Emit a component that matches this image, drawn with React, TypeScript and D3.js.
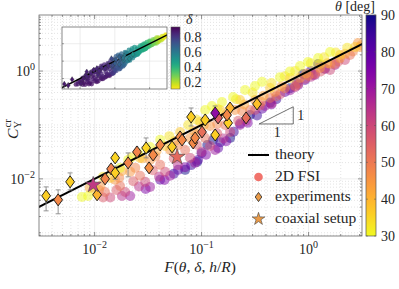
import React from "react";
import * as d3 from "d3";

// ---------- data ----------
// 2D FSI simulations grouped by inclination angle theta (deg); entries are [F, C_Y^cr, delta]
const fsiTheta = [90, 85, 80, 75, 70, 65, 60, 56, 52, 48, 45, 42, 37, 33, 30];
const fsi90 = [[0.0702,0.0147,0.9],[0.0908,0.0206,0.8],[0.113,0.0426,0.74],[0.128,0.0528,0.72],[0.185,0.0574,0.68],[0.284,0.153,0.58],[0.437,0.26,0.52],[0.672,0.48,0.45],[0.889,0.88,0.4],[1.23,1.35,0.3]];
const fsi85 = [[0.055,0.0125,0.9],[0.08,0.018,0.86],[0.1,0.03,0.78],[0.15,0.048,0.72],[0.2,0.075,0.66],[0.33,0.15,0.56],[0.5,0.3,0.48],[0.78,0.6,0.42],[1.05,1.0,0.34]];
const fsi80 = [[0.041,0.0096,0.9],[0.0603,0.0147,0.9],[0.0927,0.0225,0.78],[0.143,0.0375,0.72],[0.229,0.106,0.6],[0.368,0.2,0.55],[0.603,0.41,0.45],[0.928,0.68,0.4],[1.43,1.1,0.3]];
const fsi75 = [[0.03,0.0065,0.9],[0.045,0.0095,0.9],[0.07,0.0165,0.87],[0.11,0.028,0.78],[0.17,0.05,0.7],[0.27,0.11,0.58],[0.45,0.24,0.5],[0.8,0.55,0.42],[1.1,0.85,0.33]];
const fsi70 = [[0.0215,0.0048,0.9],[0.033,0.0071,0.9],[0.0508,0.0114,0.88],[0.087,0.0198,0.8],[0.134,0.0344,0.72],[0.229,0.1,0.6],[0.392,0.225,0.55],[0.672,0.44,0.44],[1.15,0.85,0.32],[1.77,1.3,0.22]];
const fsi65 = [[0.018,0.0048,0.9],[0.026,0.0072,0.9],[0.04,0.011,0.88],[0.06,0.018,0.86],[0.1,0.032,0.76],[0.16,0.056,0.68],[0.26,0.12,0.58],[0.45,0.25,0.5],[0.75,0.5,0.42],[1.05,0.78,0.33],[1.4,1.1,0.27]];
const fsi60 = [[0.014,0.0045,0.9],[0.0193,0.0057,0.9],[0.0297,0.0088,0.88],[0.0456,0.0135,0.87],[0.0781,0.0245,0.82],[0.12,0.0408,0.72],[0.185,0.0742,0.66],[0.316,0.19,0.56],[0.542,0.37,0.45],[0.928,0.72,0.4],[1.59,1.05,0.26],[2.19,1.6,0.2]];
const fsi56 = [[0.012,0.0045,0.9],[0.016,0.0062,0.9],[0.023,0.009,0.88],[0.035,0.0145,0.87],[0.055,0.024,0.86],[0.09,0.043,0.76],[0.14,0.07,0.7],[0.22,0.12,0.6],[0.35,0.23,0.54],[0.5,0.34,0.46],[0.8,0.58,0.4],[1.3,0.98,0.28],[1.9,1.5,0.19]];
const fsi52 = [[0.0125,0.0057,0.9],[0.0173,0.0074,0.88],[0.0266,0.0114,0.88],[0.041,0.0182,0.86],[0.0702,0.0344,0.84],[0.108,0.0574,0.72],[0.166,0.1,0.68],[0.284,0.19,0.56],[0.437,0.316,0.5],[0.748,0.528,0.42],[1.15,0.88,0.3],[1.77,1.35,0.2],[2.44,1.98,0.16]];
const fsi48 = [[0.011,0.0062,0.9],[0.017,0.0105,0.88],[0.024,0.016,0.88],[0.037,0.026,0.86],[0.06,0.042,0.85],[0.09,0.066,0.75],[0.14,0.105,0.68],[0.24,0.18,0.58],[0.36,0.27,0.52],[0.6,0.48,0.44],[1.0,0.82,0.32],[1.6,1.35,0.22],[2.6,2.3,0.14]];
const fsi45 = [[0.0113,0.0074,0.9],[0.0155,0.0096,0.88],[0.0215,0.0135,0.88],[0.033,0.0225,0.86],[0.0508,0.0344,0.85],[0.0781,0.0574,0.8],[0.12,0.0958,0.7],[0.206,0.19,0.58],[0.316,0.29,0.55],[0.487,0.408,0.48],[0.833,0.742,0.4],[1.28,1.14,0.3],[1.97,1.74,0.2],[2.9,3.3,0.13],[3.03,2.78,0.12]];
const fsi42 = [[0.009,0.0068,0.9],[0.018,0.014,0.88],[0.028,0.024,0.87],[0.038,0.033,0.86],[0.056,0.05,0.85],[0.085,0.078,0.74],[0.105,0.1,0.72],[0.17,0.16,0.66],[0.25,0.24,0.56],[0.38,0.35,0.52],[0.56,0.52,0.44],[0.95,0.9,0.38],[1.5,1.4,0.26],[2.2,2.1,0.17],[3.1,3.0,0.12]];
const fsi37 = [[0.0101,0.0063,0.88],[0.014,0.0104,0.88],[0.0266,0.0245,0.86],[0.0456,0.0408,0.85],[0.063,0.0742,0.84],[0.0968,0.114,0.72],[0.149,0.19,0.68],[0.229,0.29,0.58],[0.437,0.484,0.5],[0.672,0.742,0.42],[1.28,1.35,0.28],[1.97,1.98,0.2],[2.72,2.78,0.15]];
const fsi33 = [[0.012,0.011,0.88],[0.022,0.025,0.87],[0.05,0.062,0.85],[0.075,0.1,0.82],[0.09,0.125,0.72],[0.14,0.2,0.68],[0.21,0.3,0.56],[0.3,0.4,0.54],[0.45,0.6,0.48],[0.6,0.8,0.43],[0.75,1.0,0.4],[1.05,1.4,0.3],[1.4,1.8,0.26],[1.8,2.2,0.2],[2.3,2.7,0.16]];
const fsi30 = [[0.0076,0.0046,0.9],[0.0087,0.0048,0.88],[0.0173,0.016,0.88],[0.0206,0.0225,0.86],[0.0255,0.0303,0.88],[0.033,0.039,0.85],[0.041,0.053,0.86],[0.108,0.19,0.7],[0.125,0.225,0.68],[0.155,0.267,0.66],[0.197,0.33,0.6],[0.255,0.445,0.55],[0.316,0.53,0.52],[0.368,0.63,0.5],[0.54,0.77,0.45],[0.67,0.98,0.42],[0.833,1.24,0.4],[0.989,1.47,0.35],[1.23,1.74,0.28],[1.59,2.25,0.22]];
const fsiGroups = [fsi90, fsi85, fsi80, fsi75, fsi70, fsi65, fsi60, fsi56, fsi52, fsi48, fsi45, fsi42, fsi37, fsi33, fsi30];

// experiments
const expF = [0.00352,0.00456,0.0059,0.01055,0.01253,0.01426,0.01556,0.01556,0.02056,0.0249,0.0303,0.0323,0.0352,0.041,0.053,0.063,0.0657,0.0798,0.0834,0.087,0.101,0.108,0.134,0.1426,0.134,0.177,0.1846,0.173,0.2607,0.33];
const expC = [0.00484,0.00408,0.0088,0.00506,0.01,0.0153,0.0245,0.0129,0.0198,0.0316,0.0375,0.016,0.0278,0.0426,0.0392,0.06,0.0527,0.1406,0.0464,0.0574,0.0742,0.124,0.0653,0.135,0.1667,0.109,0.2066,0.153,0.135,0.245];
const expTheta = [36,47,36,40,48,48,35,36,48,48,35,46,47,47,36,47,47,36,47,47,52,36,36,55,72,36,40,47,52,38];
const expDelta = [0.88,0.88,0.88,0.88,0.88,0.86,0.86,0.86,0.86,0.86,0.85,0.85,0.85,0.84,0.84,0.84,0.84,0.75,0.75,0.75,0.7,0.7,0.68,0.68,0.68,0.62,0.6,0.62,0.55,0.5];
const expErrLo = [0.00255,0.00225,0.00625,null,null,null,null,0.0098,0.0109,null,0.0245,null,null,null,null,null,null,0.0957,null,null,null,null,null,null,0.125,null,null,null,null,null];
const expErrHi = [0.0071,0.00625,0.0129,null,null,null,null,0.0172,0.0303,null,0.0574,null,null,null,null,null,null,0.2066,null,null,null,null,null,null,0.225,null,null,null,null,null];

// coaxial setup
const coaxF = [0.0097, 0.059];
const coaxC = [0.00774, 0.0255];
const coaxTheta = [63, 53];

// theory C = F
const theoryF = [0.0025, 4];
const theoryC = [0.0025, 4];

// slope triangle (data coords)
const triF = [0.345, 0.72];
const triC = [0.1043, 0.2175];

const thetaTicks = [30, 40, 50, 60, 70, 80, 90];
const deltaTicks = [0.2, 0.4, 0.6, 0.8];
const xMajor = [0.01, 0.1, 1];
const xMajorExp = ["\u22122", "\u22121", "0"];
const yMajor = [0.01, 1];
const yMajorExp = ["\u22122", "0"];

// ---------- styling ----------
const FONT = "'Liberation Serif', 'Times New Roman', serif";
const TXT = "#262626";
const thetaColor = (t: number) => d3.interpolatePlasma((90 - t) / 60);
const D0 = 0.113, D1 = 0.94;
const deltaColor = (d: number) => d3.interpolateViridis((D1 - d) / (D1 - D0));

const L = 39, R = 362, T = 15, B = 236;
const IL = 62, IR = 167, IT = 27, IB = 89;

function diamond(cx: number, cy: number, hw: number, hh: number) {
  return `M${cx},${cy - hh}L${cx + hw},${cy}L${cx},${cy + hh}L${cx - hw},${cy}Z`;
}

function logGrid(lo: number, hi: number) {
  const out: { v: number; major: boolean }[] = [];
  for (let k = -5; k <= 2; k++) {
    for (let m = 1; m <= 9; m++) {
      const v = m * Math.pow(10, k);
      if (v >= lo * 0.9999 && v <= hi * 1.0001) out.push({ v, major: m === 1 });
    }
  }
  return out;
}

export default function App() {
  const x = d3.scaleLog().domain([Math.pow(10, -2.52), Math.pow(10, 0.5)]).range([L, R]);
  const y = d3.scaleLog().domain([Math.pow(10, -3.06), Math.pow(10, 1.04)]).range([B, T]);
  const xi = d3.scaleLog().domain([Math.pow(10, -2.52), Math.pow(10, 0.5)]).range([IL, IR]);
  const yi = d3.scaleLog().domain([Math.pow(10, -2.6), Math.pow(10, 0.96)]).range([IB, IT]);
  const cb = d3.scaleLinear().domain([30, 90]).range([236, 15]);
  const cbi = d3.scaleLinear().domain([D0, D1]).range([IB, IT]);

  const xg = logGrid(x.domain()[0], x.domain()[1]);
  const yg = logGrid(y.domain()[0], y.domain()[1]);
  const xgi = logGrid(xi.domain()[0], xi.domain()[1]).filter((d) => d.major);
  const ygi = logGrid(yi.domain()[0], yi.domain()[1]).filter((d) => d.major);

  const theoryLine = d3.line<number>().x((_, i) => x(theoryF[i])).y((_, i) => y(theoryC[i]));
  const theoryLineI = d3.line<number>().x((_, i) => xi(theoryF[i])).y((_, i) => yi(theoryC[i]));

  const plasmaStops = d3.range(0, 1.0001, 0.05);
  const viridisStops = d3.range(0, 1.0001, 0.05);
  const star = (size: number) => d3.symbol().type(d3.symbolStar).size(size)()!;

  const yMajorSet = new Set(yMajor.map((v) => Math.round(Math.log10(v))));

  return (
    <svg width={399} height={289} style={{ position: "absolute", left: 0, top: 0, background: "#fff" }} fontFamily={FONT}>
      <defs>
        <clipPath id="mainClip"><rect x={L} y={T} width={R - L} height={B - T} /></clipPath>
        <clipPath id="insetClip"><rect x={IL} y={IT} width={IR - IL} height={IB - IT} /></clipPath>
        <linearGradient id="plasmaGrad" x1="0" y1="1" x2="0" y2="0">
          {plasmaStops.map((s, i) => (
            <stop key={i} offset={s} stopColor={d3.interpolatePlasma(1 - s)} />
          ))}
        </linearGradient>
        <linearGradient id="viridisGrad" x1="0" y1="1" x2="0" y2="0">
          {viridisStops.map((s, i) => (
            <stop key={i} offset={s} stopColor={d3.interpolateViridis(1 - s)} />
          ))}
        </linearGradient>
      </defs>
      <rect x={0} y={0} width={399} height={289} fill="#fff" />
      <rect x={L} y={T} width={R - L} height={B - T} fill="#fff" />

      {/* grid */}
      <g>
        {xg.map((d, i) => (
          <line key={"xg" + i} x1={x(d.v)} x2={x(d.v)} y1={T} y2={B}
            stroke={d.major ? "#e2e2e2" : "#d2d2d2"} strokeWidth={0.6}
            strokeDasharray={d.major ? undefined : "1,2"} />
        ))}
        {yg.map((d, i) => {
          const maj = d.major && yMajorSet.has(Math.round(Math.log10(d.v)));
          return (
            <line key={"yg" + i} x1={L} x2={R} y1={y(d.v)} y2={y(d.v)}
              stroke={maj ? "#e2e2e2" : "#d2d2d2"} strokeWidth={0.6}
              strokeDasharray={maj ? undefined : "1,2"} />
          );
        })}
      </g>

      {/* FSI circles */}
      <g clipPath="url(#mainClip)">
        {fsiGroups.map((g, gi) =>
          g.map((p, i) => (
            <circle key={gi + "-" + i} cx={x(p[0])} cy={y(p[1])} r={5}
              fill={thetaColor(fsiTheta[gi])} fillOpacity={0.5} />
          ))
        )}
        <path d={theoryLine(theoryF)!} fill="none" stroke="#000" strokeWidth={2} />
      </g>

      {/* error bars */}
      <g stroke="#8a8a8a" strokeWidth={0.9}>
        {expF.map((f, i) =>
          expErrLo[i] != null ? (
            <g key={"eb" + i}>
              <line x1={x(f)} x2={x(f)} y1={y(expErrLo[i] as number)} y2={y(expErrHi[i] as number)} />
              <line x1={x(f) - 2.5} x2={x(f) + 2.5} y1={y(expErrLo[i] as number)} y2={y(expErrLo[i] as number)} />
              <line x1={x(f) - 2.5} x2={x(f) + 2.5} y1={y(expErrHi[i] as number)} y2={y(expErrHi[i] as number)} />
            </g>
          ) : null
        )}
      </g>

      {/* experiments diamonds */}
      <g>
        {expF.map((f, i) => (
          <path key={"ex" + i} d={diamond(x(f), y(expC[i]), 4.4, 6)}
            fill={thetaColor(expTheta[i])} stroke="#111" strokeWidth={0.9} />
        ))}
      </g>

      {/* coaxial stars */}
      <g>
        {coaxF.map((f, i) => (
          <path key={"st" + i} d={star(80)} transform={`translate(${x(f)},${y(coaxC[i])})`}
            fill={thetaColor(coaxTheta[i])} stroke="#444" strokeWidth={0.6} />
        ))}
      </g>

      {/* slope triangle */}
      <path d={`M${x(triF[0])},${y(triC[0])}L${x(triF[1])},${y(triC[0])}L${x(triF[1])},${y(triC[1])}Z`}
        fill="none" stroke="#333" strokeWidth={0.7} />
      <text x={x(triF[1]) + 4} y={(y(triC[0]) + y(triC[1])) / 2 + 4.5} fontSize={14} fill={TXT}>1</text>
      <text x={(x(triF[0]) + x(triF[1])) / 2 + 1} y={y(triC[0]) + 13.5} fontSize={14} fill={TXT} textAnchor="middle">1</text>

      {/* frame + ticks */}
      <rect x={L} y={T} width={R - L} height={B - T} fill="none" stroke="#555" strokeWidth={0.7} />
      <g stroke="#555" strokeWidth={0.6}>
        {xg.map((d, i) => {
          const len = d.major ? 4 : 2;
          return (
            <g key={"xt" + i}>
              <line x1={x(d.v)} x2={x(d.v)} y1={B} y2={B - len} />
              <line x1={x(d.v)} x2={x(d.v)} y1={T} y2={T + len} />
            </g>
          );
        })}
        {yg.map((d, i) => {
          const maj = d.major && yMajorSet.has(Math.round(Math.log10(d.v)));
          const len = maj ? 4 : 2;
          return (
            <g key={"yt" + i}>
              <line x1={L} x2={L + len} y1={y(d.v)} y2={y(d.v)} />
              <line x1={R} x2={R - len} y1={y(d.v)} y2={y(d.v)} />
            </g>
          );
        })}
      </g>

      {/* tick labels */}
      {xMajor.map((v, i) => (
        <text key={"xl" + i} x={x(v)} y={254} textAnchor="middle" fill={TXT} fontSize={14}>
          10<tspan fontSize={10} dy={-6}>{xMajorExp[i]}</tspan>
        </text>
      ))}
      {yMajor.map((v, i) => (
        <text key={"yl" + i} x={35} y={y(v) + 5} textAnchor="end" fill={TXT} fontSize={14}>
          10<tspan fontSize={10} dy={-6}>{yMajorExp[i]}</tspan>
        </text>
      ))}

      {/* axis labels */}
      <text x={200} y={272} textAnchor="middle" fill={TXT} fontSize={15.5}>
        <tspan fontStyle="italic">F</tspan>(<tspan fontStyle="italic">θ</tspan>, <tspan fontStyle="italic">δ</tspan>, <tspan fontStyle="italic">h</tspan>/<tspan fontStyle="italic">R</tspan>)
      </text>
      <g transform="translate(18,139) rotate(-90)" fill={TXT}>
        <text x={0} y={0} fontSize={15.5} fontStyle="italic">C</text>
        <text x={10.5} y={3} fontSize={10.5}>Y</text>
        <text x={11.5} y={-7} fontSize={10.5}>cr</text>
      </g>

      {/* legend */}
      <g>
        <line x1={248} x2={269} y1={155} y2={155} stroke="#000" strokeWidth={2} />
        <circle cx={258.5} cy={177} r={4.3} fill="#ee5a52" fillOpacity={0.85} />
        <path d={diamond(258.5, 197, 3.3, 4.6)} fill="#e99a48" stroke="#222" strokeWidth={0.8} />
        <path d={star(50)} transform="translate(258.5,219)" fill="#e99a48" stroke="#444" strokeWidth={0.6} />
        <text x={275} y={158.5} fontSize={15.5} fill={TXT}>theory</text>
        <text x={275} y={181} fontSize={15.5} fill={TXT}>2D FSI</text>
        <text x={275} y={201} fontSize={15.5} fill={TXT}>experiments</text>
        <text x={275} y={222.5} fontSize={15.5} fill={TXT}>coaxial setup</text>
      </g>

      {/* theta colorbar */}
      <rect x={366} y={15} width={10} height={221} fill="url(#plasmaGrad)" stroke="#555" strokeWidth={0.7} />
      {thetaTicks.map((t, i) => (
        <g key={"cb" + i}>
          <line x1={366} x2={368} y1={cb(t)} y2={cb(t)} stroke="#555" strokeWidth={0.5} />
          <line x1={374} x2={376} y1={cb(t)} y2={cb(t)} stroke="#555" strokeWidth={0.5} />
          <text x={381} y={cb(t) + 5} fontSize={14} fill={TXT}>{t}</text>
        </g>
      ))}
      <text x={375} y={10.5} textAnchor="end" fontSize={14} fill={TXT}>
        <tspan fontStyle="italic">θ</tspan> [deg]
      </text>

      {/* inset */}
      <rect x={IL} y={IT} width={IR - IL} height={IB - IT} fill="#fff" />
      <g stroke="#e0e0e0" strokeWidth={0.6}>
        {xgi.map((d, i) => (
          <line key={"ixg" + i} x1={xi(d.v)} x2={xi(d.v)} y1={IT} y2={IB} />
        ))}
        {ygi.map((d, i) => (
          <line key={"iyg" + i} x1={IL} x2={IR} y1={yi(d.v)} y2={yi(d.v)} />
        ))}
      </g>
      <g clipPath="url(#insetClip)">
        {fsiGroups.map((g, gi) =>
          g.map((p, i) => (
            <circle key={"i" + gi + "-" + i} cx={xi(p[0])} cy={yi(p[1])} r={2.4}
              fill={deltaColor(p[2])} fillOpacity={0.75} />
          ))
        )}
        <path d={theoryLineI(theoryF)!} fill="none" stroke="#000" strokeWidth={1.5} />
        {expF.map((f, i) =>
          expErrLo[i] != null ? (
            <line key={"ieb" + i} x1={xi(f)} x2={xi(f)} y1={yi(expErrLo[i] as number)} y2={yi(expErrHi[i] as number)} stroke="#8a8a8a" strokeWidth={0.6} />
          ) : null
        )}
        {expF.map((f, i) => (
          <path key={"iex" + i} d={diamond(xi(f), yi(expC[i]), 2, 2.8)}
            fill={deltaColor(expDelta[i])} stroke="#333" strokeWidth={0.3} />
        ))}
      </g>
      <rect x={IL} y={IT} width={IR - IL} height={IB - IT} fill="none" stroke="#555" strokeWidth={0.7} />
      <g stroke="#555" strokeWidth={0.5}>
        {xgi.map((d, i) => (
          <line key={"ixt" + i} x1={xi(d.v)} x2={xi(d.v)} y1={IB} y2={IB - 2} />
        ))}
        {ygi.map((d, i) => (
          <line key={"iyt" + i} x1={IL} x2={IL + 2} y1={yi(d.v)} y2={yi(d.v)} />
        ))}
      </g>

      {/* delta colorbar */}
      <rect x={171} y={IT} width={9} height={IB - IT} fill="url(#viridisGrad)" stroke="#555" strokeWidth={0.6} />
      {deltaTicks.map((t, i) => (
        <text key={"dcb" + i} x={184} y={cbi(t) + 5} fontSize={14} fill={TXT}>{t.toFixed(1)}</text>
      ))}
      <text x={186} y={24} fontSize={14} fontStyle="italic" fill={TXT}>δ</text>
    </svg>
  );
}
